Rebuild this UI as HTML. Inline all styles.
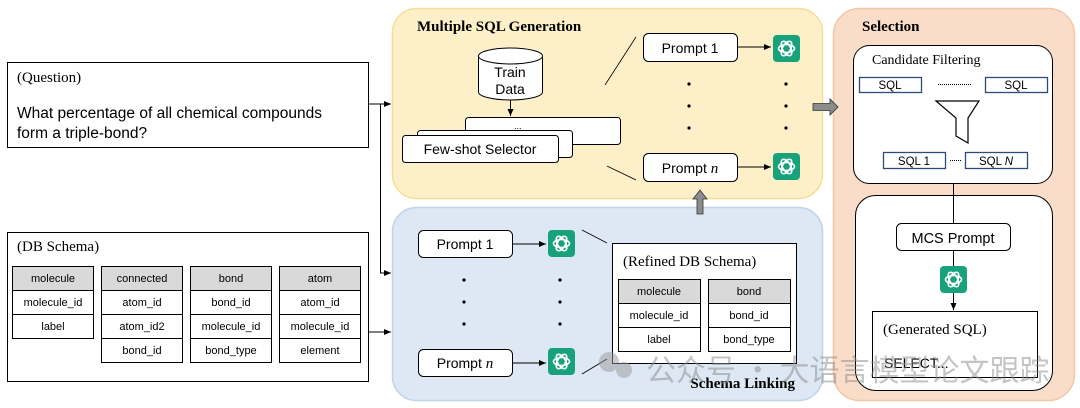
<!DOCTYPE html>
<html><head><meta charset="utf-8"><style>
html,body{margin:0;padding:0;background:#fff;}
svg{display:block;}
.s{font-family:"Liberation Sans",sans-serif;}
.r{font-family:"Liberation Serif",serif;}
</style></head><body>
<svg width="1080" height="408" viewBox="0 0 1080 408" xmlns="http://www.w3.org/2000/svg">
<defs>
<marker id="ah" markerWidth="8" markerHeight="8" refX="7" refY="4" orient="auto" markerUnits="userSpaceOnUse"><path d="M0,1 L7,4 L0,7 Z" fill="#000"/></marker>
<g id="gpt">
<rect x="0" y="0" width="27" height="27" rx="4" fill="#18a27c"/>
<g fill="none" stroke="#fff" stroke-width="1.6">
<ellipse cx="13.5" cy="13.5" rx="8" ry="4" />
<ellipse cx="13.5" cy="13.5" rx="8" ry="4" transform="rotate(60 13.5 13.5)"/>
<ellipse cx="13.5" cy="13.5" rx="8" ry="4" transform="rotate(120 13.5 13.5)"/>
</g>
</g>
</defs>

<rect x="7.5" y="62.5" width="361" height="85" fill="#fff" stroke="#000"/>
<text class="r" x="17" y="82" font-size="15">(Question)</text>
<text class="s" x="17" y="118" font-size="15.5">What percentage of all chemical compounds</text>
<text class="s" x="17" y="138" font-size="15.5">form a triple-bond?</text>

<rect x="7.5" y="232.5" width="361" height="149" fill="#fff" stroke="#000"/>
<text class="r" x="17" y="251" font-size="15">(DB Schema)</text>
<g class="s" font-size="11" text-anchor="middle" stroke="#000">
<rect x="12.5" y="266.5" width="81" height="24" fill="#d9d9d9"/>
<rect x="12.5" y="290.5" width="81" height="24" fill="#fff"/>
<rect x="12.5" y="314.5" width="81" height="24" fill="#fff"/>
<rect x="101.5" y="266.5" width="81" height="24" fill="#d9d9d9"/>
<rect x="101.5" y="290.5" width="81" height="24" fill="#fff"/>
<rect x="101.5" y="314.5" width="81" height="24" fill="#fff"/>
<rect x="101.5" y="338.5" width="81" height="24" fill="#fff"/>
<rect x="190.5" y="266.5" width="81" height="24" fill="#d9d9d9"/>
<rect x="190.5" y="290.5" width="81" height="24" fill="#fff"/>
<rect x="190.5" y="314.5" width="81" height="24" fill="#fff"/>
<rect x="190.5" y="338.5" width="81" height="24" fill="#fff"/>
<rect x="279.5" y="266.5" width="81" height="24" fill="#d9d9d9"/>
<rect x="279.5" y="290.5" width="81" height="24" fill="#fff"/>
<rect x="279.5" y="314.5" width="81" height="24" fill="#fff"/>
<rect x="279.5" y="338.5" width="81" height="24" fill="#fff"/>
</g>
<g class="s" font-size="11" text-anchor="middle">
<text x="53" y="282">molecule</text><text x="53" y="306">molecule_id</text><text x="53" y="330">label</text>
<text x="142" y="282">connected</text><text x="142" y="306">atom_id</text><text x="142" y="330">atom_id2</text><text x="142" y="354">bond_id</text>
<text x="231" y="282">bond</text><text x="231" y="306">bond_id</text><text x="231" y="330">molecule_id</text><text x="231" y="354">bond_type</text>
<text x="320" y="282">atom</text><text x="320" y="306">atom_id</text><text x="320" y="330">molecule_id</text><text x="320" y="354">element</text>
</g>

<rect x="392.5" y="8.5" width="430" height="190" rx="24" fill="#fdf0c9" stroke="#f7dd95" stroke-width="1.5"/>
<rect x="392.5" y="207.5" width="430" height="193" rx="24" fill="#dde8f4" stroke="#bdd3ea" stroke-width="1.5"/>
<rect x="833.5" y="8.5" width="241" height="392" rx="26" fill="#f9ddc9" stroke="#f3c6a6" stroke-width="1.5"/>

<g stroke="#000" fill="none" stroke-width="1">
<path d="M369,104 H391" marker-end="url(#ah)"/>
<path d="M380.5,104 V273 H391" marker-end="url(#ah)"/>
<path d="M369,332 H391" marker-end="url(#ah)"/>
</g>

<text class="r" x="417" y="31" font-size="15" font-weight="bold">Multiple SQL Generation</text>

<path d="M478.5,56 V92 A32,8 0 0 0 542.5,92 V56" fill="#fff" stroke="#000"/>
<ellipse cx="510.5" cy="56" rx="32" ry="8" fill="#fff" stroke="#000"/>
<text class="s" x="510" y="77" font-size="14" text-anchor="middle">Train</text>
<text class="s" x="510" y="94" font-size="14" text-anchor="middle">Data</text>
<path d="M510.5,100 V116" stroke="#000" marker-end="url(#ah)"/>

<rect x="465.5" y="117.5" width="155" height="27" rx="3" fill="#fff" stroke="#000"/>
<text class="s" x="514" y="129" font-size="9">...</text>
<rect x="417.5" y="130.5" width="155" height="27" rx="3" fill="#fff" stroke="#000"/>
<rect x="402.5" y="135.5" width="156" height="27" rx="3" fill="#fff" stroke="#000"/>
<text class="s" x="480" y="154" font-size="14" text-anchor="middle">Few-shot Selector</text>

<g stroke="#000" stroke-width="0.8">
<line x1="605" y1="85" x2="636" y2="37"/>
<line x1="607" y1="166" x2="636" y2="180"/>
</g>
<rect x="643.5" y="33.5" width="94" height="28" rx="5" fill="#fff" stroke="#000"/>
<text class="s" x="690" y="53" font-size="14" text-anchor="middle">Prompt 1</text>
<path d="M737,47 H771" stroke="#000" marker-end="url(#ah)"/>
<use href="#gpt" x="773" y="35"/>
<rect x="643.5" y="153.5" width="94" height="28" rx="5" fill="#fff" stroke="#000"/>
<text class="s" x="690" y="173" font-size="14" text-anchor="middle">Prompt <tspan font-family="Liberation Serif, serif" font-style="italic" font-size="15">n</tspan></text>
<path d="M737,167 H771" stroke="#000" marker-end="url(#ah)"/>
<use href="#gpt" x="773" y="153"/>
<g fill="#000">
<circle cx="689" cy="84" r="1.6"/><circle cx="689" cy="106" r="1.6"/><circle cx="689" cy="128" r="1.6"/>
<circle cx="786" cy="84" r="1.6"/><circle cx="786" cy="106" r="1.6"/><circle cx="786" cy="128" r="1.6"/>
</g>

<path d="M813,103.5 H830 V99 L838,107 L830,115 V110.5 H813 Z" fill="#8c8c8c" stroke="#333" stroke-width="0.8"/>
<path d="M697,214 V199 H693 L700,190 L707,199 H703 V214 Z" fill="#8c8c8c" stroke="#333" stroke-width="0.8"/>

<rect x="418.5" y="230.5" width="94" height="27" rx="5" fill="#fff" stroke="#000"/>
<text class="s" x="465" y="249" font-size="14" text-anchor="middle">Prompt 1</text>
<path d="M512,244 H546" stroke="#000" marker-end="url(#ah)"/>
<use href="#gpt" x="548" y="230"/>
<rect x="418.5" y="349.5" width="94" height="27" rx="5" fill="#fff" stroke="#000"/>
<text class="s" x="465" y="368" font-size="14" text-anchor="middle">Prompt <tspan font-family="Liberation Serif, serif" font-style="italic" font-size="15">n</tspan></text>
<path d="M512,363 H546" stroke="#000" marker-end="url(#ah)"/>
<use href="#gpt" x="548" y="348"/>
<g fill="#000">
<circle cx="464" cy="280" r="1.6"/><circle cx="464" cy="302" r="1.6"/><circle cx="464" cy="324" r="1.6"/>
<circle cx="560" cy="280" r="1.6"/><circle cx="560" cy="302" r="1.6"/><circle cx="560" cy="324" r="1.6"/>
</g>
<g stroke="#000" stroke-width="0.8">
<line x1="582" y1="230" x2="607" y2="243"/>
<line x1="582" y1="374" x2="607" y2="359"/>
</g>
<rect x="612.5" y="243.5" width="184" height="120" fill="#fff" stroke="#000"/>
<text class="r" x="623" y="266" font-size="15">(Refined DB Schema)</text>
<g stroke="#000">
<rect x="618.5" y="279.5" width="82" height="24" fill="#d9d9d9"/>
<rect x="618.5" y="303.5" width="82" height="24" fill="#fff"/>
<rect x="618.5" y="327.5" width="82" height="24" fill="#fff"/>
<rect x="708.5" y="279.5" width="82" height="24" fill="#d9d9d9"/>
<rect x="708.5" y="303.5" width="82" height="24" fill="#fff"/>
<rect x="708.5" y="327.5" width="82" height="24" fill="#fff"/>
</g>
<g class="s" font-size="11" text-anchor="middle">
<text x="659" y="295">molecule</text><text x="659" y="319">molecule_id</text><text x="659" y="343">label</text>
<text x="749" y="295">bond</text><text x="749" y="319">bond_id</text><text x="749" y="343">bond_type</text>
</g>

<text class="r" x="862" y="31" font-size="15" font-weight="bold">Selection</text>
<rect x="853.5" y="45.5" width="199" height="138" rx="16" fill="#fff" stroke="#000"/>
<text class="r" x="872" y="64" font-size="14">Candidate Filtering</text>
<g stroke="#2d4a7a" stroke-width="1.3" fill="#fff">
<rect x="859.5" y="77.5" width="62" height="15"/>
<rect x="985.5" y="77.5" width="62" height="15"/>
<rect x="883.5" y="152.5" width="62" height="16"/>
<rect x="965.5" y="152.5" width="62" height="16"/>
</g>
<g class="s" font-size="11.5" text-anchor="middle">
<text x="890" y="89">SQL</text><text x="1016" y="89">SQL</text>
<text x="914" y="165">SQL 1</text><text x="996" y="165">SQL <tspan font-style="italic">N</tspan></text>
</g>
<line x1="938" y1="84.5" x2="971" y2="84.5" stroke="#000" stroke-dasharray="1,1"/>
<line x1="950" y1="160.5" x2="961" y2="160.5" stroke="#000" stroke-dasharray="1,1"/>
<path d="M936,101 H979 L968,118 V143 L956,136 V118 Z" fill="#fff" stroke="#000" stroke-width="1.2"/>

<line x1="953.5" y1="183" x2="953.5" y2="223" stroke="#000"/>
<rect x="855.5" y="195.5" width="197" height="195" rx="20" fill="#fff" stroke="#000"/>
<line x1="953.5" y1="195" x2="953.5" y2="223" stroke="#000"/>
<rect x="896.5" y="223.5" width="114" height="27" rx="5" fill="#fff" stroke="#000"/>
<text class="s" x="953" y="243" font-size="14.5" text-anchor="middle">MCS Prompt</text>
<line x1="953.5" y1="250" x2="953.5" y2="266" stroke="#000"/>
<use href="#gpt" x="940" y="266"/>
<path d="M953.5,293 V310" stroke="#000" marker-end="url(#ah)"/>
<rect x="872.5" y="311.5" width="165" height="66" fill="#fff" stroke="#000"/>
<text class="r" x="883" y="334" font-size="15">(Generated SQL)</text>
<text class="s" x="884" y="368" font-size="14">SELECT...</text>

<text class="r" x="795" y="388" font-size="15" font-weight="bold" text-anchor="end">Schema Linking</text>

<g opacity="0.5">
<circle cx="609" cy="362" r="10" fill="#999"/><circle cx="624" cy="370" r="8" fill="#999"/>
<text x="646" y="381" font-size="30" fill="#8a8a8a" style="font-family:'Noto Sans CJK SC',sans-serif">公众号 · 大语言模型论文跟踪</text>
</g>
</svg>
</body></html>
